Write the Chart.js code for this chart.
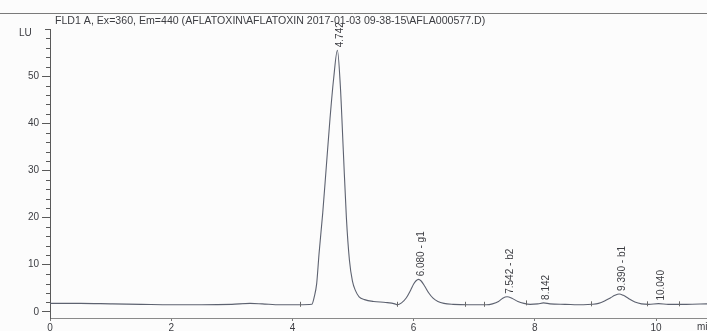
<!DOCTYPE html>
<html>
<head>
<meta charset="utf-8">
<script src="https://cdn.jsdelivr.net/npm/chart.js@4.4.1/dist/chart.umd.min.js"></script>
<style>
  html, body { margin: 0; padding: 0; background: #fcfcfc; }
  canvas { display: block; }
</style>
</head>
<body>
<canvas id="c" width="707" height="331"></canvas>
<script>
// FLD1 A fluorescence trace (retention time in min, signal in LU)
const times = [
  0.00, 0.50, 1.00, 1.50, 2.00, 2.50, 3.00, 3.30, 3.50, 3.80, 4.10,
  4.32, 4.36, 4.40, 4.44, 4.50, 4.56, 4.62, 4.68, 4.742, 4.79, 4.84, 4.89, 4.94, 4.99,
  5.04, 5.10, 5.19, 5.34, 5.54, 5.69, 5.73,
  5.80, 5.88, 5.95, 6.00, 6.04, 6.08, 6.12, 6.18, 6.25, 6.32, 6.40, 6.50, 6.65, 6.90,
  7.20, 7.30, 7.40, 7.47, 7.542, 7.62, 7.72, 7.82, 7.92,
  8.05, 8.142, 8.25, 8.50, 8.80,
  8.95, 9.05, 9.15, 9.25, 9.32, 9.39, 9.46, 9.55, 9.65, 9.76, 9.88,
  10.04, 10.20, 10.50, 10.84
];
const signal = [
  1.8, 1.8, 1.7, 1.6, 1.5, 1.5, 1.6, 1.8, 1.7, 1.5, 1.5,
  1.6, 3.2, 6.0, 12.5, 21, 31, 41, 49.5, 55.5, 48, 34, 20, 11, 6.5,
  4.5, 3.2, 2.6, 2.2, 2.0, 1.7, 1.5,
  1.9, 3.0, 4.6, 5.9, 6.6, 6.9, 6.6, 5.5, 4.0, 2.9, 2.2, 1.8, 1.6, 1.5,
  1.5, 1.7, 2.2, 2.9, 3.2, 2.9, 2.2, 1.8, 1.6,
  1.7, 1.9, 1.7, 1.6, 1.5,
  1.6, 1.8, 2.3, 3.0, 3.5, 3.8, 3.5, 2.8, 2.1, 1.7, 1.6,
  1.75, 1.6, 1.6, 1.7
];

// Integrated peaks: retention time and annotation
const peakTimes  = [4.742, 6.080, 7.542, 8.142, 9.390, 10.040];
const peakLabels = ['4.742', '6.080 - g1', '7.542 - b2', '8.142', '9.390 - b1', '10.040'];

// Integration event marks on the baseline (min)
const eventTimes = [4.12, 5.72, 6.85, 7.16, 7.86, 8.93, 9.85, 10.37];

// Axis ticks
const xTicks = [0, 2, 4, 6, 8, 10];
const yTicks = [0, 10, 20, 30, 40, 50];
const yMinorTicks = [2, 4, 6, 8, 12, 14, 16, 18, 22, 24, 26, 28, 32, 34, 36, 38, 42, 44, 46, 48, 52, 54, 56, 58];

const titleText = 'FLD1 A, Ex=360, Em=440 (AFLATOXIN\\AFLATOXIN 2017-01-03 09-38-15\\AFLA000577.D)';

const FONT = '"Liberation Sans", Arial, sans-serif';
const INK = '#3c3d42';
const TRACE = '#5d6270';

const points = times.map((t, i) => ({ x: t, y: signal[i] }));

function signalAt(t) {
  const i = times.indexOf(t);
  if (i >= 0) return signal[i];
  let best = 0;
  for (let k = 1; k < times.length; k++) {
    if (Math.abs(times[k] - t) < Math.abs(times[best] - t)) best = k;
  }
  return signal[best];
}

const decorations = {
  id: 'decorations',
  afterDraw(chart) {
    const ctx = chart.ctx;
    const xs = chart.scales.x, ys = chart.scales.y;
    const area = chart.chartArea;
    ctx.save();

    // header rule and title
    ctx.strokeStyle = '#7a7a7a';
    ctx.lineWidth = 1;
    ctx.beginPath();
    ctx.moveTo(0, 13.5);
    ctx.lineTo(chart.width, 13.5);
    ctx.stroke();
    ctx.fillStyle = INK;
    ctx.font = '10.6px ' + FONT;
    ctx.textBaseline = 'middle';
    ctx.textAlign = 'left';
    ctx.fillText(titleText, 55, 21);

    // unit label
    ctx.font = '10px ' + FONT;
    ctx.fillText('LU', 19, 33);

    // x unit, cut off at the right edge
    ctx.textBaseline = 'top';
    ctx.fillText('min', 697, 322);

    // y-axis cap and minor ticks
    ctx.strokeStyle = '#5a5a5a';
    ctx.beginPath();
    ctx.moveTo(area.left - 5, area.top + 0.5);
    ctx.lineTo(area.left, area.top + 0.5);
    yMinorTicks.forEach(v => {
      const py = Math.round(ys.getPixelForValue(v)) + 0.5;
      ctx.moveTo(area.left - 4, py);
      ctx.lineTo(area.left, py);
    });
    ctx.stroke();

    // integration event marks
    ctx.strokeStyle = '#6a6a6a';
    ctx.beginPath();
    eventTimes.forEach(t => {
      const px = Math.round(xs.getPixelForValue(t)) + 0.5;
      const base = ys.getPixelForValue(signalAt(t));
      ctx.moveTo(px, base - 3);
      ctx.lineTo(px, base + 2);
    });
    ctx.stroke();

    // peak annotations, written upward from just above each apex
    ctx.fillStyle = INK;
    ctx.font = '10px ' + FONT;
    ctx.textAlign = 'left';
    ctx.textBaseline = 'middle';
    peakTimes.forEach((t, i) => {
      const px = xs.getPixelForValue(t) + 3;
      const py = ys.getPixelForValue(signalAt(t)) - 3;
      ctx.save();
      ctx.translate(px, py);
      ctx.rotate(-Math.PI / 2);
      ctx.fillText(peakLabels[i], 0, 0);
      ctx.restore();
    });

    ctx.restore();
  }
};

new Chart(document.getElementById('c'), {
  type: 'line',
  data: {
    datasets: [{
      data: points,
      borderColor: TRACE,
      borderWidth: 1.1,
      pointRadius: 0,
      fill: false,
      cubicInterpolationMode: 'monotone'
    }]
  },
  options: {
    responsive: false,
    devicePixelRatio: 1,
    animation: false,
    events: [],
    layout: { padding: { top: 29, left: 0, right: 0, bottom: 0 } },
    plugins: { legend: { display: false }, tooltip: { enabled: false }, title: { display: false } },
    scales: {
      x: {
        type: 'linear',
        min: 0,
        max: 10.84,
        afterBuildTicks: s => { s.ticks = xTicks.map(v => ({ value: v })); },
        afterFit: s => { s.height = 13; },
        grid: { drawOnChartArea: false, tickLength: 3, color: '#777' },
        border: { display: true, color: '#8a8a8a', width: 1, dash: [7, 3] },
        ticks: {
          autoSkip: false,
          maxRotation: 0,
          padding: 1,
          color: INK,
          font: { family: FONT, size: 10 }
        }
      },
      y: {
        type: 'linear',
        min: -1.3,
        max: 60,
        afterBuildTicks: s => { s.ticks = yTicks.map(v => ({ value: v })); },
        afterFit: s => { s.width = 50; },
        grid: { drawOnChartArea: false, tickLength: 8, color: '#5a5a5a' },
        border: { display: true, color: '#5a5a5a', width: 1 },
        ticks: {
          autoSkip: false,
          padding: 3,
          color: INK,
          font: { family: FONT, size: 10 }
        }
      }
    }
  },
  plugins: [decorations]
});
</script>
</body>
</html>
